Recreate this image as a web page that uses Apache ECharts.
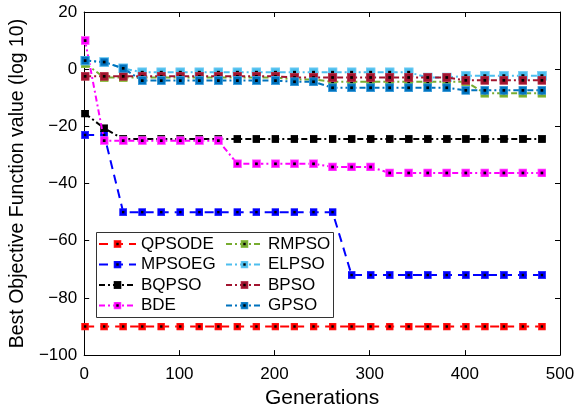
<!DOCTYPE html>
<html><head><meta charset="utf-8">
<script src="https://cdn.jsdelivr.net/npm/echarts@6/dist/echarts.min.js"></script>
<style>html,body{margin:0;padding:0;background:#fff}#c{width:579px;height:414px}</style>
</head><body><div id="c"></div>
<script>
// ---- data ----
const generations = [1,21,41,61,81,101,121,141,161,181,201,221,241,261,281,301,321,341,361,381,401,421,441,461,481];
const QPSODE = [-90,-90,-90,-90,-90,-90,-90,-90,-90,-90,-90,-90,-90,-90,-90,-90,-90,-90,-90,-90,-90,-90,-90,-90,-90];
const MPSOEG = [-23,-23,-50,-50,-50,-50,-50,-50,-50,-50,-50,-50,-50,-50,-72,-72,-72,-72,-72,-72,-72,-72,-72,-72,-72];
const BQPSO  = [-15.5,-20.7,-24.4,-24.4,-24.4,-24.4,-24.4,-24.4,-24.4,-24.4,-24.4,-24.4,-24.4,-24.4,-24.4,-24.4,-24.4,-24.4,-24.4,-24.4,-24.4,-24.4,-24.4,-24.4,-24.4];
const BDE    = [10,-25,-25,-25,-25,-25,-25,-25,-33.1,-33.1,-33.1,-33.1,-33.1,-34.2,-34.2,-34.2,-36.3,-36.3,-36.3,-36.3,-36.3,-36.3,-36.3,-36.3,-36.3];
const RMPSO  = [2,-2.9,-2.9,-2.9,-2.9,-2.9,-2.9,-2.9,-2.9,-2.9,-2.9,-3.6,-3.6,-4.4,-4.4,-4.4,-4.4,-4.4,-4.4,-4.4,-4.4,-8.4,-8.4,-8.4,-8.4];
const ELPSO  = [3,2.5,0.3,-1.1,-1.1,-1.1,-1.1,-1.1,-1.1,-1.1,-1.1,-1.1,-1.1,-1.1,-1.1,-1.1,-1.1,-1.1,-2.9,-2.9,-2.3,-2.3,-2.3,-2.3,-2.3];
const BPSO   = [-2.5,-2.5,-2.5,-2.5,-2.5,-2.5,-2.5,-2.5,-2.5,-2.5,-2.5,-2.9,-2.9,-2.9,-2.9,-2.9,-2.9,-2.9,-2.9,-2.9,-3.9,-3.9,-3.9,-3.9,-3.9];
const GPSO   = [3,2.5,0.3,-4,-4,-4,-4,-4,-4,-4,-4,-4.4,-4.4,-6.5,-6.5,-6.5,-6.5,-6.5,-6.5,-6.5,-7.4,-7.4,-7.4,-7.4,-7.4];
const xTicks = [0,100,200,300,400,500];
const yTicks = [-100,-80,-60,-40,-20,0,20];
const seriesNames = ['QPSODE','MPSOEG','BQPSO','BDE','RMPSO','ELPSO','BPSO','GPSO'];
const seriesValues = [QPSODE,MPSOEG,BQPSO,BDE,RMPSO,ELPSO,BPSO,GPSO];

// ---- styles ----
const FONT = '"Liberation Sans", Arial, sans-serif';
const styles = {
  QPSODE: {color:'#FF0000', edge:'#FF3030', size:8, dash:[9,6], dot:true},
  MPSOEG: {color:'#0000FF', edge:'#2020FF', size:8, dash:[9,6], dot:true},
  BQPSO:  {color:'#000000', edge:'#000000', size:8, dash:[6,3,2,3], dot:false},
  BDE:    {color:'#FF00FF', edge:'#FF66FF', size:9, dash:[6,3,2,3], dot:true},
  RMPSO:  {color:'#77AC30', edge:'#8CC040', size:9, dash:[6,3,2,3], dot:true},
  ELPSO:  {color:'#4DBEEE', edge:'#7AD0F5', size:10, dash:[6,3,2,3], dot:true},
  BPSO:   {color:'#A2142F', edge:'#B8304A', size:9, dash:[6,3,2,3], dot:true},
  GPSO:   {color:'#0072BD', edge:'#3FA0E0', size:9, dash:[6,3,2,3], dot:true}
};
function sq(s){
  const svg = '<svg xmlns="http://www.w3.org/2000/svg" width="20" height="20">' +
    '<rect x="1" y="1" width="18" height="18" fill="'+s.color+'" stroke="'+s.edge+'" stroke-width="2"/>' +
    (s.dot ? '<rect x="7" y="7" width="6" height="6" fill="#000"/>' : '') + '</svg>';
  return 'image://data:image/svg+xml;charset=utf-8,' + encodeURIComponent(svg);
}
const series = seriesNames.map((n,k)=>{
  const s = styles[n];
  return {
    name:n, type:'line', xAxisIndex:0, yAxisIndex:0,
    data: generations.map((g,i)=>[g, seriesValues[k][i]]),
    symbol: sq(s), symbolSize: s.size, showAllSymbol:true,
    lineStyle:{color:s.color, width:2, type:s.dash},
    itemStyle:{color:s.color},
    emphasis:{disabled:true}, animation:false, z:3+k
  };
});
const minusFmt = v => String(v).replace('-', '\u2212');
const axisCommon = {
  axisLine:{show:true, onZero:false, lineStyle:{color:'#000', width:1}},
  axisTick:{show:true, inside:true, length:5, lineStyle:{color:'#000'}},
  splitLine:{show:false}
};
const legendCommon = {
  orient:'vertical', top:234, padding:0, itemWidth:37, itemHeight:10, itemGap:0.5,
  selectedMode:false,
  textStyle:{fontSize:17, lineHeight:20, color:'#000', fontFamily:FONT}
};
const chart = echarts.init(document.getElementById('c'), null, {renderer:'canvas'});
chart.setOption({
  backgroundColor:'#fff',
  animation:false,
  grid:{left:81, top:12, right:19, bottom:54, containLabel:false},
  xAxis:[
    Object.assign({type:'value', position:'bottom', min:xTicks[0], max:xTicks[xTicks.length-1], interval:100,
      name:'Generations', nameLocation:'middle', nameGap:32,
      nameTextStyle:{fontSize:21, color:'#000', fontFamily:FONT},
      axisLabel:{fontSize:17, color:'#000', margin:11, fontFamily:FONT, formatter:minusFmt}}, axisCommon),
    Object.assign({type:'value', position:'top', min:xTicks[0], max:xTicks[xTicks.length-1], interval:100,
      axisLabel:{show:false}}, axisCommon)
  ],
  yAxis:[
    Object.assign({type:'value', position:'left', min:yTicks[0], max:yTicks[yTicks.length-1], interval:20,
      name:'Best Objective Function value (log 10)', nameLocation:'middle', nameGap:54,
      nameTextStyle:{fontSize:19.5, color:'#000', fontFamily:FONT},
      axisLabel:{fontSize:17, color:'#000', margin:7, fontFamily:FONT, formatter:minusFmt}}, axisCommon),
    Object.assign({type:'value', position:'right', min:yTicks[0], max:yTicks[yTicks.length-1], interval:20,
      axisLabel:{show:false}}, axisCommon)
  ],
  legend:[
    Object.assign({left:98, data:seriesNames.slice(0,4)}, legendCommon),
    Object.assign({left:225, data:seriesNames.slice(4)}, legendCommon)
  ],
  graphic:[{type:'rect', left:96, top:232, shape:{width:237, height:85}, z:1,
    style:{fill:'#fff', stroke:'#333', lineWidth:1}}],
  series: series
});
</script></body></html>
